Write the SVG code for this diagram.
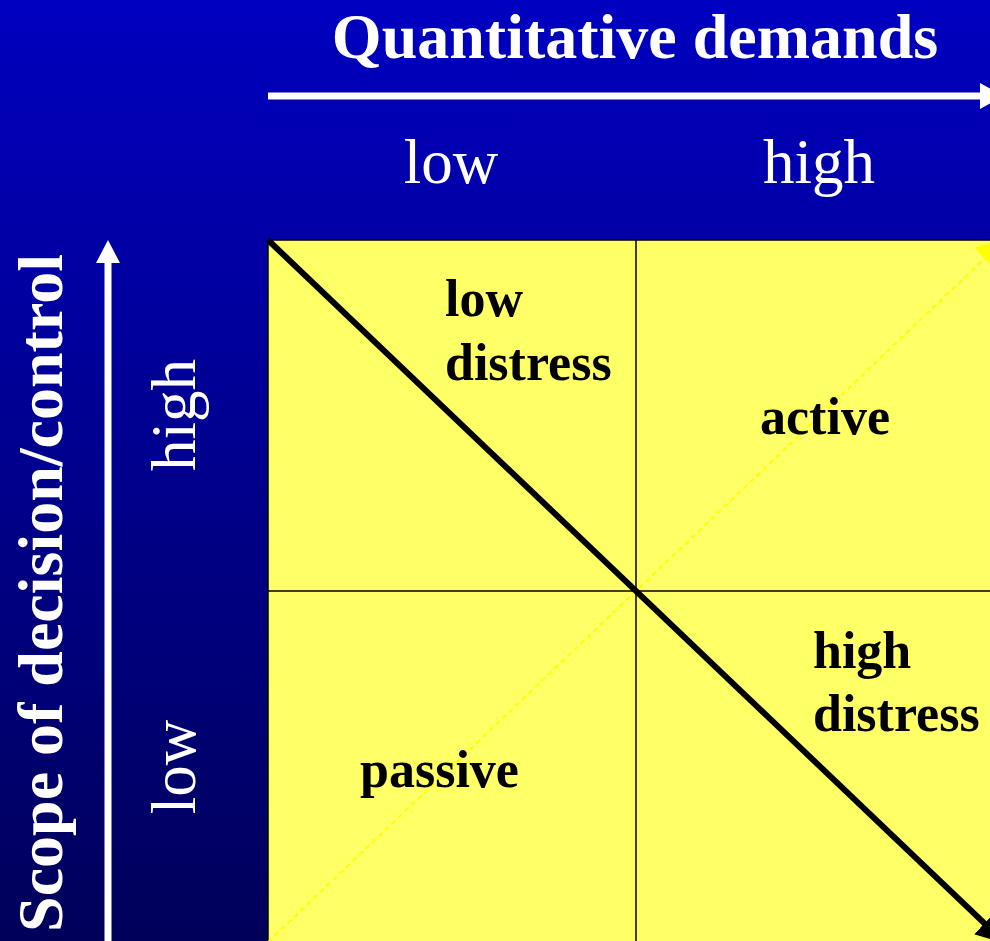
<svg xmlns="http://www.w3.org/2000/svg" width="990" height="941" viewBox="0 0 990 941">
  <defs>
    <linearGradient id="bg" x1="0" y1="0" x2="0" y2="1">
      <stop offset="0" stop-color="#0000C0"/>
      <stop offset="1" stop-color="#00005A"/>
    </linearGradient>
    <marker id="blackHead" viewBox="0 0 10 10" refX="9" refY="5" markerWidth="5" markerHeight="5" orient="auto" markerUnits="strokeWidth">
      <path d="M0,0 L10,5 L0,10 Z" fill="#000"/>
    </marker>
    <marker id="yellowHead" viewBox="0 0 10 10" refX="9" refY="5" markerWidth="15" markerHeight="15" orient="auto" markerUnits="strokeWidth">
      <path d="M0,0 L10,5 L0,10 Z" fill="#FFFF00"/>
    </marker>
  </defs>
  <style>
    .serif { font-family: "Liberation Serif", "Times New Roman", serif; }
    .axisTitle { font-size: 64px; font-weight: bold; fill: #fff; }
    .axisTick { font-size: 63px; fill: #fff; }
    .cell { font-size: 52px; font-weight: bold; fill: #000; }
    .grid { stroke: #000; stroke-width: 1.5; fill: none; }
  </style>

  <rect x="0" y="0" width="990" height="941" fill="url(#bg)"/>

  <g id="matrix">
    <rect x="268" y="240" width="736" height="702" fill="#FFFF66" stroke="#000" stroke-width="1.5"/>
    <line class="grid" x1="636" y1="240" x2="636" y2="941"/>
    <line class="grid" x1="268" y1="591" x2="1004" y2="591"/>
  </g>

  <g id="connectors">
    <line x1="268" y1="942" x2="1004" y2="240" stroke="#FFFF00" stroke-width="2" stroke-dasharray="5 4" marker-end="url(#yellowHead)"/>
    <line x1="268" y1="240" x2="1004" y2="942" stroke="#000" stroke-width="6" marker-end="url(#blackHead)"/>
    <line x1="268" y1="96" x2="984" y2="96" stroke="#fff" stroke-width="7"/>
    <polygon points="980,83 1004,96 980,109" fill="#fff"/>
    <line x1="108" y1="941" x2="108" y2="258" stroke="#fff" stroke-width="7"/>
    <polygon points="96,263 108,240 120,263" fill="#fff"/>
  </g>

  <g id="x-axis-title">
    <text class="serif axisTitle" x="635" y="58" text-anchor="middle">Quantitative demands</text>
  </g>
  <g id="x-low">
    <text class="serif axisTick" x="451" y="183" text-anchor="middle">low</text>
  </g>
  <g id="x-high">
    <text class="serif axisTick" x="819" y="183" text-anchor="middle">high</text>
  </g>

  <g id="y-axis-title">
    <text class="serif axisTitle" transform="translate(62,593) rotate(-90)" text-anchor="middle">Scope of decision/control</text>
  </g>
  <g id="y-high">
    <text class="serif axisTick" transform="translate(195,415) rotate(-90)" text-anchor="middle">high</text>
  </g>
  <g id="y-low">
    <text class="serif axisTick" transform="translate(195,767) rotate(-90)" text-anchor="middle">low</text>
  </g>

  <g id="cell-low-distress">
    <text class="serif cell" x="445" y="316">low</text>
    <text class="serif cell" x="445" y="380">distress</text>
  </g>
  <g id="cell-active">
    <text class="serif cell" x="825" y="434" text-anchor="middle">active</text>
  </g>
  <g id="cell-high-distress">
    <text class="serif cell" x="813" y="668">high</text>
    <text class="serif cell" x="813" y="731">distress</text>
  </g>
  <g id="cell-passive">
    <text class="serif cell" x="360" y="787">passive</text>
  </g>
</svg>
